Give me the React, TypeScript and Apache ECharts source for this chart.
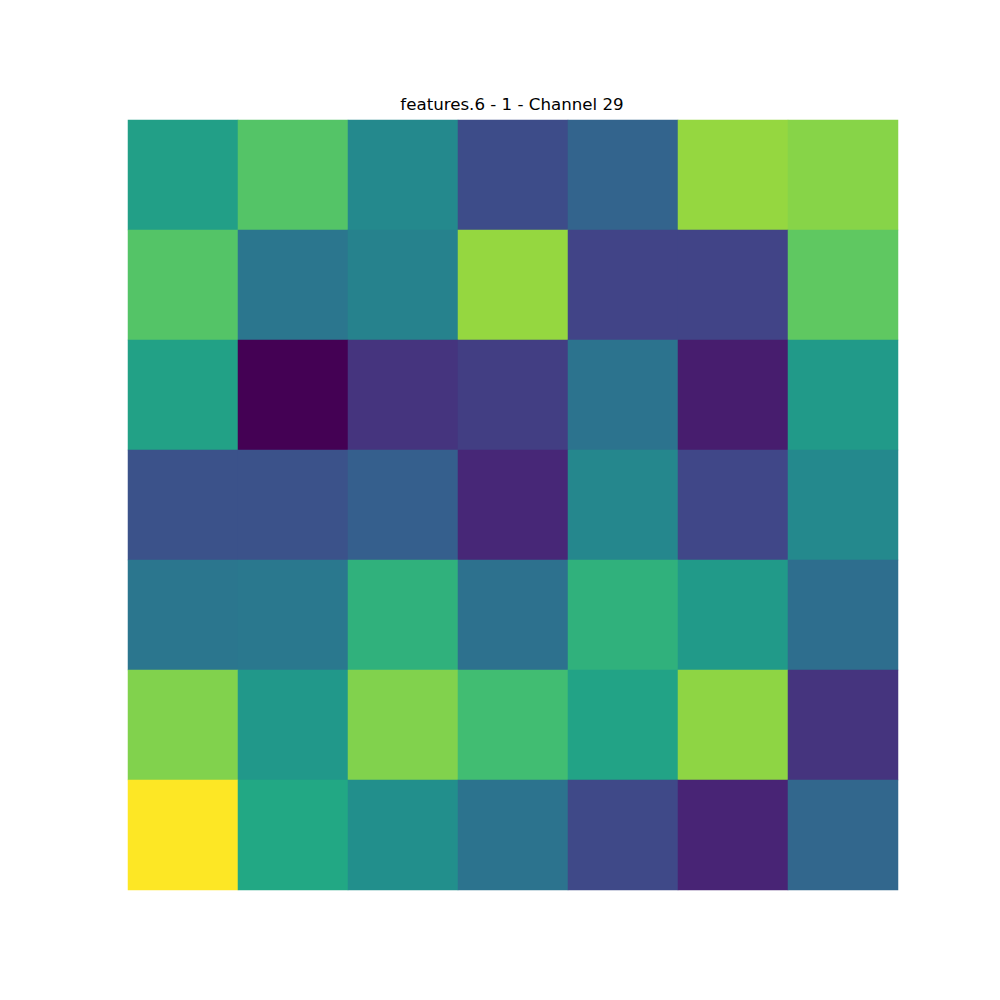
import React, { useEffect, useRef } from "react";
import * as echarts from "echarts";

const xCategories = ["0", "1", "2", "3", "4", "5", "6"];
const yCategories = ["0", "1", "2", "3", "4", "5", "6"];
const row0 = [0.56, 0.73, 0.47, 0.23, 0.32, 0.84, 0.82];
const row1 = [0.73, 0.39, 0.44, 0.84, 0.2, 0.2, 0.75];
const row2 = [0.57, 0.0, 0.15, 0.18, 0.38, 0.08, 0.54];
const row3 = [0.25, 0.25, 0.3, 0.11, 0.46, 0.21, 0.47];
const row4 = [0.39, 0.4, 0.64, 0.37, 0.64, 0.54, 0.36];
const row5 = [0.81, 0.53, 0.81, 0.69, 0.58, 0.83, 0.15];
const row6 = [1.0, 0.6, 0.49, 0.38, 0.22, 0.1, 0.33];
const rows = [row0, row1, row2, row3, row4, row5, row6];
const titleText = "features.6 - 1 - Channel 29";

const viridis = [
  "#440154", "#482475", "#414487", "#355f8d", "#2a788e", "#21918c",
  "#22a884", "#44bf70", "#7ad151", "#bddf26", "#fde725",
];

export default function App() {
  const ref = useRef<HTMLDivElement>(null);
  useEffect(() => {
    if (!ref.current) return;
    const chart = echarts.init(ref.current, undefined, { renderer: "svg" });
    const data: number[][] = [];
    rows.forEach((r, yi) => r.forEach((v, xi) => data.push([xi, yi, v])));
    chart.setOption({
      animation: false,
      title: {
        text: titleText,
        left: 512,
        textAlign: "center",
        top: 96,
        padding: 0,
        textStyle: { fontFamily: "DejaVu Sans", fontSize: 16.67, fontWeight: "normal", color: "#000" },
      },
      grid: { left: 128, top: 120, width: 770, height: 770 },
      xAxis: { type: "category", data: xCategories, show: false },
      yAxis: { type: "category", data: yCategories, show: false, inverse: true },
      visualMap: { show: false, min: 0, max: 1, inRange: { color: viridis } },
      series: [{ type: "heatmap", data, itemStyle: { borderWidth: 0 } }],
    });
    return () => chart.dispose();
  }, []);
  return <div ref={ref} style={{ width: 1000, height: 1000, margin: -8 }} />;
}
